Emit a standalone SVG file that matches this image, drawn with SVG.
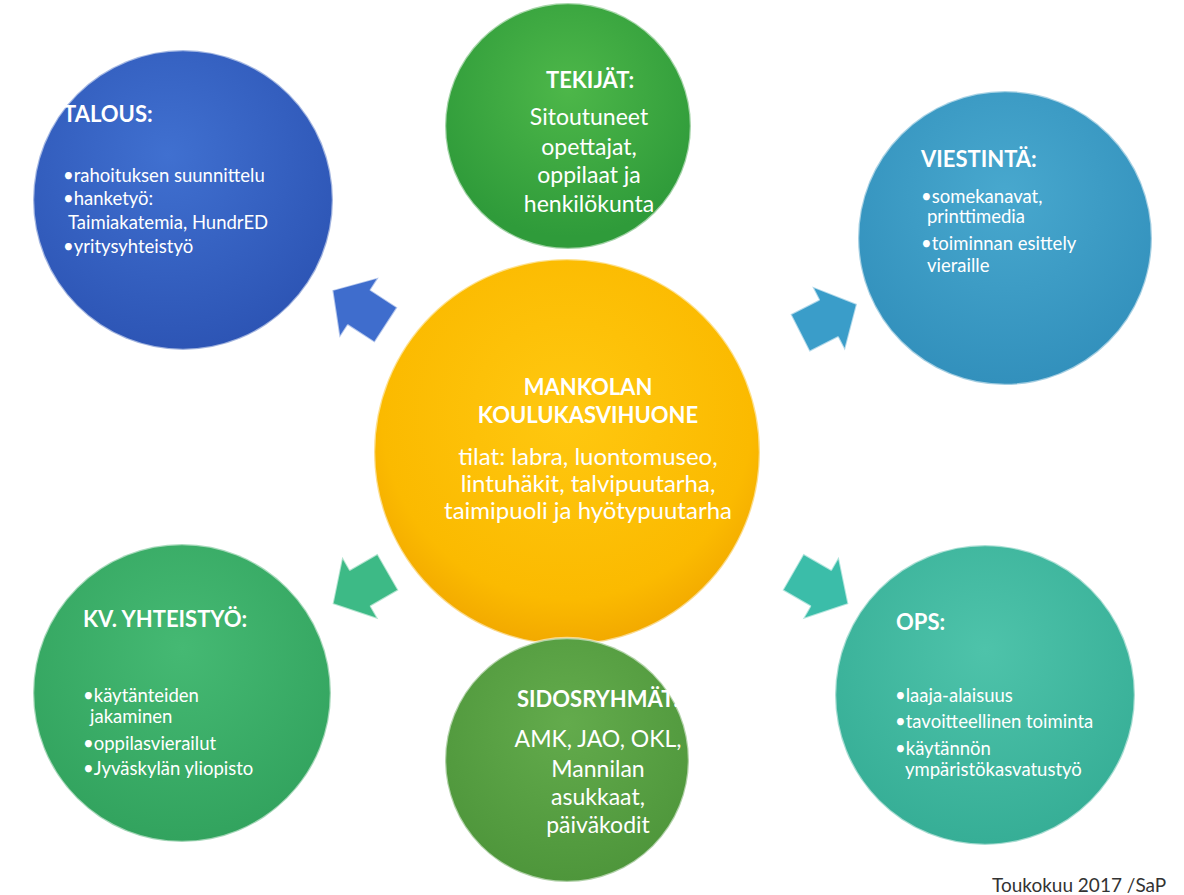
<svg xmlns="http://www.w3.org/2000/svg" width="1184" height="895" viewBox="0 0 1184 895">
<defs>
<radialGradient id="gY" cx="50%" cy="40%" r="60%"><stop offset="0" stop-color="#FFC810"/><stop offset="0.8" stop-color="#FBBA00"/><stop offset="1" stop-color="#F2A900"/></radialGradient>
<radialGradient id="gT" cx="50%" cy="35%" r="60%"><stop offset="0" stop-color="#4DB749"/><stop offset="1" stop-color="#2F9B3A"/></radialGradient>
<radialGradient id="gB" cx="45%" cy="35%" r="65%"><stop offset="0" stop-color="#4070D0"/><stop offset="1" stop-color="#2D55B5"/></radialGradient>
<radialGradient id="gC" cx="50%" cy="35%" r="65%"><stop offset="0" stop-color="#48A8CE"/><stop offset="1" stop-color="#3290BC"/></radialGradient>
<radialGradient id="gK" cx="50%" cy="35%" r="65%"><stop offset="0" stop-color="#45B973"/><stop offset="1" stop-color="#32A35E"/></radialGradient>
<radialGradient id="gO" cx="50%" cy="35%" r="65%"><stop offset="0" stop-color="#4EC3AA"/><stop offset="1" stop-color="#36AE96"/></radialGradient>
<radialGradient id="gS" cx="50%" cy="35%" r="65%"><stop offset="0" stop-color="#63AB4C"/><stop offset="1" stop-color="#4E963B"/></radialGradient>
<polygon id="arr" points="0,-21 32,-21 32,-36 64,0 32,36 32,21 0,21"/>
</defs>
<style>
.rim{stroke:#ffffff;stroke-opacity:0.55;stroke-width:2.5}
text{font-family:Lato,"Open Sans",sans-serif;fill:#ffffff}
.h{font-weight:bold;font-size:22px}
.b{font-size:18.5px}
.m{font-size:24px}
.t{font-size:23px}
.ft{fill:#333333;font-size:19px}
.a{stroke:#ffffff;stroke-opacity:0.6;stroke-width:2;stroke-linejoin:round}
</style>
<rect width="1184" height="895" fill="#ffffff"/>
<g id="connectors">
<use href="#arr" class="a" fill="#3F6DCD" transform="translate(386,325) rotate(213)"/>
<use href="#arr" class="a" fill="#3A9DC9" transform="translate(800,333) rotate(-27)"/>
<use href="#arr" class="a" fill="#3DBA86" transform="translate(388,572) rotate(150)"/>
<use href="#arr" class="a" fill="#3BBDA9" transform="translate(793,572) rotate(30)"/>
</g>
<g id="center">
<circle cx="567" cy="452" r="193" fill="url(#gY)" class="rim"/>
<text class="h" x="588" y="395" text-anchor="middle">MANKOLAN</text>
<text class="h" x="588" y="423" text-anchor="middle">KOULUKASVIHUONE</text>
<text class="m" x="588" y="465" text-anchor="middle">tilat: labra, luontomuseo,</text>
<text class="m" x="588" y="492" text-anchor="middle">lintuhäkit, talvipuutarha,</text>
<text class="m" x="588" y="519" text-anchor="middle">taimipuoli ja hyötypuutarha</text>
</g>
<g id="tekijat">
<circle cx="568" cy="126" r="123" fill="url(#gT)" class="rim"/>
<text class="h" x="590" y="88" text-anchor="middle">TEKIJÄT:</text>
<text class="t" x="589" y="125" text-anchor="middle">Sitoutuneet</text>
<text class="t" x="589" y="155" text-anchor="middle">opettajat,</text>
<text class="t" x="589" y="183" text-anchor="middle">oppilaat ja</text>
<text class="t" x="589" y="212" text-anchor="middle">henkilökunta</text>
</g>
<g id="talous">
<circle cx="183" cy="200" r="150" fill="url(#gB)" class="rim"/>
<text class="h" x="63" y="122">TALOUS:</text>
<text class="b" x="63" y="182">•rahoituksen suunnittelu</text>
<text class="b" x="63" y="205">•hanketyö:</text>
<text class="b" x="68" y="229">Taimiakatemia, HundrED</text>
<text class="b" x="63" y="253">•yritysyhteistyö</text>
</g>
<g id="viestinta">
<circle cx="1005" cy="238" r="147" fill="url(#gC)" class="rim"/>
<text class="h" x="921" y="167">VIESTINTÄ:</text>
<text class="b" x="921" y="203">•somekanavat,</text>
<text class="b" x="927" y="223">printtimedia</text>
<text class="b" x="921" y="250">•toiminnan esittely</text>
<text class="b" x="927" y="272">vieraille</text>
</g>
<g id="kv">
<circle cx="182" cy="693" r="149" fill="url(#gK)" class="rim"/>
<text class="h" x="83" y="627">KV. YHTEISTYÖ:</text>
<text class="b" x="83" y="702">•käytänteiden</text>
<text class="b" x="90" y="723">jakaminen</text>
<text class="b" x="83" y="750">•oppilasvierailut</text>
<text class="b" x="83" y="775">•Jyväskylän yliopisto</text>
</g>
<g id="ops">
<circle cx="985" cy="695" r="150" fill="url(#gO)" class="rim"/>
<text class="h" x="896" y="630">OPS:</text>
<text class="b" x="895" y="702">•laaja-alaisuus</text>
<text class="b" x="895" y="728">•tavoitteellinen toiminta</text>
<text class="b" x="895" y="755">•käytännön</text>
<text class="b" x="905" y="776">ympäristökasvatustyö</text>
</g>
<g id="sidosryhmat">
<circle cx="567" cy="760" r="122" fill="url(#gS)" class="rim"/>
<text class="h" x="598" y="707" text-anchor="middle">SIDOSRYHMÄT:</text>
<text class="t" x="598" y="747" text-anchor="middle">AMK, JAO, OKL,</text>
<text class="t" x="598" y="777" text-anchor="middle">Mannilan</text>
<text class="t" x="598" y="805" text-anchor="middle">asukkaat,</text>
<text class="t" x="598" y="833" text-anchor="middle">päiväkodit</text>
</g>
<text class="ft" x="992" y="892">Toukokuu 2017 /SaP</text>
</svg>
